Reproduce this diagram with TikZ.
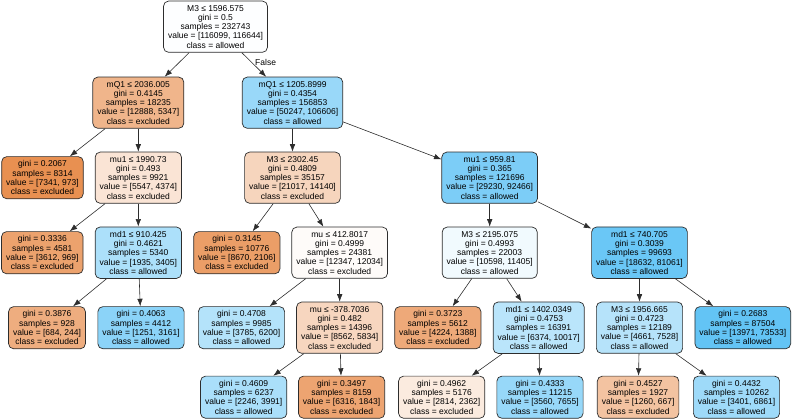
\documentclass[tikz,border=0pt]{standalone}
\usepackage{fontspec}
\setmainfont{Liberation Sans}
\usepackage{xcolor}
\usetikzlibrary{positioning,arrows.meta}
\definecolor{exclcol}{RGB}{229,127,55}
\definecolor{allwcol}{RGB}{62,182,243}
\definecolor{edgecol}{RGB}{45,45,45}

\begin{document}
\begin{tikzpicture}[
    x=1pt,y=1pt,
    >={Latex[length=7.5pt,width=5.5pt]},
    on grid,
    boxstyle/.style={draw=edgecol,line width=0.7pt,rounded corners=5pt,align=center,font=\fontsize{8.5}{9.3}\selectfont,inner xsep=4.5pt,inner ysep=4pt},
    excl/.style={boxstyle,fill=exclcol!#1},
    allw/.style={boxstyle,fill=allwcol!#1},
    arr/.style={->,draw=edgecol,line width=0.6pt}
]
\useasboundingbox (0,0) rectangle (793,-419);

\node[allw=1] (r) at (215.5,-26.7) {M3 ≤ 1596.575\\ gini = 0.5\\ samples = 232743\\ value = [116099, 116644]\\ class = allowed};

\node[excl=58,below left=76pt and 77.2pt of r] (rL) {mQ1 ≤ 2036.005\\ gini = 0.4145\\ samples = 18235\\ value = [12888, 5347]\\ class = excluded};
\node[allw=53,below right=76pt and 77pt of r] (rR) {mQ1 ≤ 1205.8999\\ gini = 0.4354\\ samples = 156853\\ value = [50247, 106606]\\ class = allowed};

\node[excl=87,below left=75pt and 95.8pt of rL] (rLL) {gini = 0.2067\\ samples = 8314\\ value = [7341, 973]\\ class = excluded};
\node[excl=21,below=75pt of rL] (rLR) {mu1 ≤ 1990.73\\ gini = 0.493\\ samples = 9921\\ value = [5547, 4374]\\ class = excluded};
\node[excl=33,below=75pt of rR] (rRL) {M3 ≤ 2302.45\\ gini = 0.4809\\ samples = 35157\\ value = [21017, 14140]\\ class = excluded};
\node[allw=68,below right=75pt and 197.2pt of rR] (rRR) {mu1 ≤ 959.81\\ gini = 0.365\\ samples = 121696\\ value = [29230, 92466]\\ class = allowed};

\node[excl=73,below left=75pt and 96pt of rLR] (rLRL) {gini = 0.3336\\ samples = 4581\\ value = [3612, 969]\\ class = excluded};
\node[allw=43,below=75pt of rLR] (rLRR) {md1 ≤ 910.425\\ gini = 0.4621\\ samples = 5340\\ value = [1935, 3405]\\ class = allowed};
\node[excl=76,below left=75pt and 55.7pt of rRL] (rRLL) {gini = 0.3145\\ samples = 10776\\ value = [8670, 2106]\\ class = excluded};
\node[excl=3,below right=75pt and 47.2pt of rRL] (rRLR) {mu ≤ 412.8017\\ gini = 0.4999\\ samples = 24381\\ value = [12347, 12034]\\ class = excluded};
\node[allw=7,below=75pt of rRR] (rRRL) {M3 ≤ 2195.075\\ gini = 0.4993\\ samples = 22003\\ value = [10598, 11405]\\ class = allowed};
\node[allw=77,below right=75pt and 149.8pt of rRR] (rRRR) {md1 ≤ 740.705\\ gini = 0.3039\\ samples = 99693\\ value = [18632, 81061]\\ class = allowed};

\node[excl=64,below left=75pt and 91.3pt of rLRR] (rLRRL) {gini = 0.3876\\ samples = 928\\ value = [684, 244]\\ class = excluded};
\node[allw=60,below right=75pt and 2.7pt of rLRR] (rLRRR) {gini = 0.4063\\ samples = 4412\\ value = [1251, 3161]\\ class = allowed};
\node[allw=39,below left=75pt and 98.2pt of rRLR] (rRLRL) {gini = 0.4708\\ samples = 9985\\ value = [3785, 6200]\\ class = allowed};
\node[excl=32,below=75pt of rRLR] (rRLRR) {mu ≤ -378.7036\\ gini = 0.482\\ samples = 14396\\ value = [8562, 5834]\\ class = excluded};
\node[excl=67,below left=75pt and 51.9pt of rRRL] (rRRLL) {gini = 0.3723\\ samples = 5612\\ value = [4224, 1388]\\ class = excluded};
\node[allw=36,below right=75pt and 49pt of rRRL] (rRRLR) {md1 ≤ 1402.0349\\ gini = 0.4753\\ samples = 16391\\ value = [6374, 10017]\\ class = allowed};
\node[allw=38,below=75pt of rRRR] (rRRRL) {M3 ≤ 1956.665\\ gini = 0.4723\\ samples = 12189\\ value = [4661, 7528]\\ class = allowed};
\node[allw=81,below right=75pt and 103.3pt of rRRR] (rRRRR) {gini = 0.2683\\ samples = 87504\\ value = [13971, 73533]\\ class = allowed};

\node[allw=44,below left=69.5pt and 96pt of rRLRR] (rRLRRL) {gini = 0.4609\\ samples = 6237\\ value = [2246, 3991]\\ class = allowed};
\node[excl=71,below right=69.5pt and 1.9pt of rRLRR] (rRLRRR) {gini = 0.3497\\ samples = 8159\\ value = [6316, 1843]\\ class = excluded};
\node[excl=16,below left=69.5pt and 97pt of rRRLR] (rRRLRL) {gini = 0.4962\\ samples = 5176\\ value = [2814, 2362]\\ class = excluded};
\node[allw=54,below right=69.5pt and 1.3pt of rRRLR] (rRRLRR) {gini = 0.4333\\ samples = 11215\\ value = [3560, 7655]\\ class = allowed};
\node[excl=47,below left=69.5pt and 1.4pt of rRRRL] (rRRRLL) {gini = 0.4527\\ samples = 1927\\ value = [1260, 667]\\ class = excluded};
\node[allw=50,below right=69.5pt and 97pt of rRRRL] (rRRRLR) {gini = 0.4432\\ samples = 10262\\ value = [3401, 6861]\\ class = allowed};

\draw[arr] (r) -- (rL);
\draw[arr] (r) -- node[right,pos=0.4,font=\fontsize{8.5}{9.3}\selectfont]{False} (rR);
\draw[arr] (rL) -- (rLL);
\draw[arr] (rL) -- (rLR);
\draw[arr] (rR) -- (rRL);
\draw[arr] (rR) -- (rRR);
\draw[arr] (rLR) -- (rLRL);
\draw[arr] (rLR) -- (rLRR);
\draw[arr] (rRL) -- (rRLL);
\draw[arr] (rRL) -- (rRLR);
\draw[arr] (rRR) -- (rRRL);
\draw[arr] (rRR) -- (rRRR);
\draw[arr] (rLRR) -- (rLRRL);
\draw[arr] (rLRR) -- (rLRRR);
\draw[arr] (rRLR) -- (rRLRL);
\draw[arr] (rRLR) -- (rRLRR);
\draw[arr] (rRRL) -- (rRRLL);
\draw[arr] (rRRL) -- (rRRLR);
\draw[arr] (rRRR) -- (rRRRL);
\draw[arr] (rRRR) -- (rRRRR);
\draw[arr] (rRLRR) -- (rRLRRL);
\draw[arr] (rRLRR) -- (rRLRRR);
\draw[arr] (rRRLR) -- (rRRLRL);
\draw[arr] (rRRLR) -- (rRRLRR);
\draw[arr] (rRRRL) -- (rRRRLL);
\draw[arr] (rRRRL) -- (rRRRLR);
\end{tikzpicture}
\end{document}
